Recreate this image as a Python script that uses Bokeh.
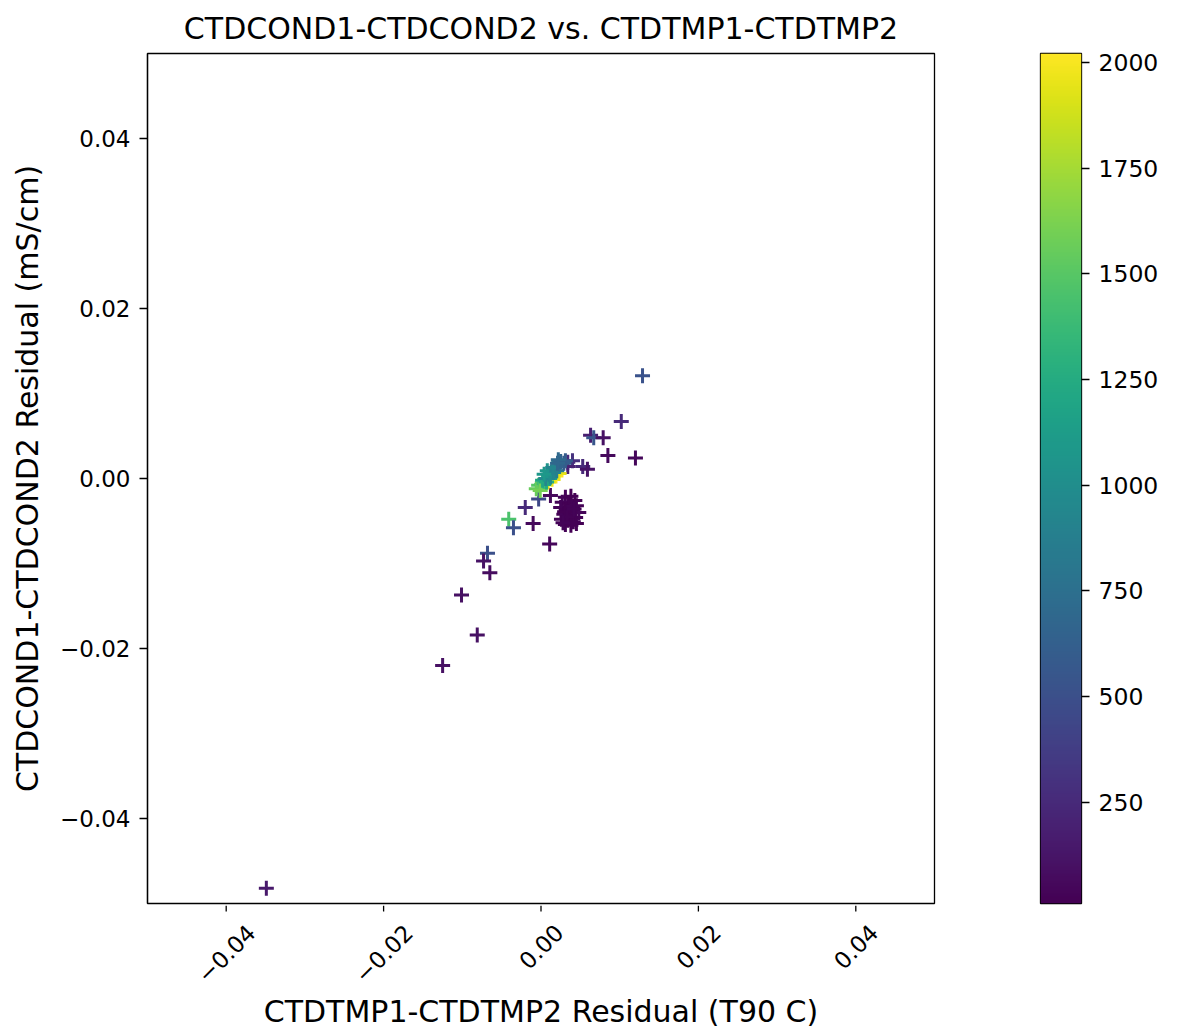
import numpy as np
from bokeh.plotting import figure
from bokeh.layouts import row, column
from bokeh.models import (ColumnDataSource, LinearColorMapper, FixedTicker, Label, Range1d)
from bokeh.core.properties import value
from bokeh.palettes import Viridis256
from bokeh.transform import transform
from bokeh.embed import file_html
from bokeh.resources import INLINE

FONT = "DejaVu Sans"

# Residuals: temperature (T90 C), conductivity (mS/cm), and pressure (dbar)
# Shallow / scattered casts
temp_shallow = [-0.0349, -0.0125, -0.0081, -0.0101, -0.0068, -0.0073, -0.0065,
                -0.0041, -0.0035, -0.0020, -0.0010, 0.0011, -0.0003, 0.0012,
                0.0129, 0.0102, 0.0063, 0.0067, 0.0079, 0.0085, 0.0120,
                0.0034, 0.0053, 0.0059, 0.0040, 0.0034]
cond_shallow = [-0.0482, -0.0220, -0.0184, -0.0137, -0.0088, -0.0097, -0.0111,
                -0.0048, -0.0058, -0.0034, -0.0053, -0.0077, -0.0024, -0.0020,
                0.0121, 0.0067, 0.0051, 0.0048, 0.0048, 0.0027, 0.0024,
                0.0019, 0.0014, 0.0011, 0.0021, 0.0014]
pres_shallow = [150, 100, 100, 100, 500, 110, 80,
                1450, 500, 250, 60, 50, 450, 60,
                520, 250, 180, 550, 100, 60, 50,
                260, 250, 110, 300, 200]

# Near-surface cluster
temp_surface = [0.0031, 0.0038, 0.0043, 0.0027, 0.0035, 0.0045, 0.0025, 0.0032,
                0.0040, 0.0048, 0.0029, 0.0036, 0.0044, 0.0026, 0.0034, 0.0041,
                0.0031, 0.0038, 0.0045, 0.0039, 0.0030, 0.0033, 0.0042, 0.0028]
cond_surface = [-0.0022, -0.0021, -0.0026, -0.0028, -0.0029, -0.0032, -0.0034, -0.0037,
                -0.0038, -0.0040, -0.0042, -0.0044, -0.0046, -0.0048, -0.0049, -0.0051,
                -0.0054, -0.0055, -0.0053, -0.0033, -0.0039, -0.0045, -0.0036, -0.0052]
pres_surface = [30, 25, 20, 35, 15, 22, 28, 12, 18, 40, 14, 26, 19, 33, 16, 24,
                21, 13, 17, 29, 11, 23, 31, 27]

# Deep casts (deepest first so mid-depth points sit on top)
temp_deep = [0.0014, 0.0019, 0.0023, 0.0009,
             -0.0003, 0.0001, -0.0006, 0.0004, -0.0001,
             0.0002, 0.0007, 0.0011,
             0.0006, 0.0010, 0.0013, 0.0017, 0.0021, 0.0012, 0.0016, 0.0008,
             0.0004, 0.0020, 0.0024, 0.0015,
             0.0025, 0.0029, 0.0031, 0.0022, 0.0021]
cond_deep = [-0.0001, 0.0003, 0.0006, -0.0004,
             -0.0008, -0.0007, -0.0012, -0.0006, -0.0014,
             -0.0002, -0.0004, 0.0000,
             0.0000, 0.0005, 0.0008, 0.0012, 0.0014, 0.0002, 0.0007, 0.0009,
             0.0005, 0.0009, 0.0017, 0.0013,
             0.0020, 0.0018, 0.0021, 0.0022, 0.0018]
pres_deep = [1980, 2010, 1950, 1900,
             1500, 1450, 1550, 1400, 1600,
             1200, 1250, 1150,
             950, 980, 900, 870, 820, 1000, 940, 1050,
             1080, 880, 760, 920,
             650, 620, 600, 700, 680]

temp = temp_shallow + temp_surface + temp_deep
cond = cond_shallow + cond_surface + cond_deep
pres = pres_shallow + pres_surface + pres_deep

ticks = [-0.04, -0.02, 0.0, 0.02, 0.04]
tick_labels = ["\u22120.04", "\u22120.02", "0.00", "0.02", "0.04"]
cbar_ticks = [250, 500, 750, 1000, 1250, 1500, 1750, 2000]
p_low, p_high = 11, 2021
x_lo, x_hi = -0.05, 0.05

TICK_PX = "23px"
LABEL_PX = "30px"
FRAME_W, FRAME_H = 787, 850
TOP, BOTTOM_GAP, STRIP_H = 53, 2, 123

mapper = LinearColorMapper(palette=Viridis256, low=p_low, high=p_high)
src = ColumnDataSource(dict(temp=temp, cond=cond, pres=pres))

# ---- main scatter panel ----
p = figure(frame_width=FRAME_W, frame_height=FRAME_H,
           min_border_left=147, min_border_right=66,
           min_border_top=TOP, min_border_bottom=BOTTOM_GAP,
           x_range=(x_lo, x_hi), y_range=(-0.05, 0.05),
           output_backend="svg", toolbar_location=None,
           title="CTDCOND1-CTDCOND2 vs. CTDTMP1-CTDTMP2")
p.grid.visible = False
p.outline_line_color = "black"
p.outline_line_width = 1.3
p.background_fill_color = "white"
p.border_fill_color = "white"
p.xaxis.visible = False

p.title.text_font = FONT
p.title.text_font_size = LABEL_PX
p.title.text_font_style = "normal"
p.title.text_color = "black"
p.title.align = "center"
p.title.standoff = 15

yax = p.yaxis[0]
yax.ticker = FixedTicker(ticks=ticks)
yax.major_label_overrides = dict(zip(ticks, tick_labels))
yax.minor_tick_line_color = None
yax.major_tick_in = 0
yax.major_tick_out = 8
yax.major_tick_line_width = 1.3
yax.axis_line_width = 1.3
yax.major_label_text_font = FONT
yax.major_label_text_font_size = TICK_PX
yax.major_label_text_color = "black"
yax.major_label_standoff = 9
yax.axis_label = "CTDCOND1-CTDCOND2 Residual (mS/cm)"
yax.axis_label_text_font = FONT
yax.axis_label_text_font_size = LABEL_PX
yax.axis_label_text_font_style = "normal"
yax.axis_label_text_color = "black"
yax.axis_label_standoff = 12

p.scatter("temp", "cond", source=src, marker="cross", size=15,
          line_width=3, line_color=transform("pres", mapper))

# ---- colour bar panel ----
cb = figure(frame_width=41, frame_height=FRAME_H,
            min_border_left=40, min_border_right=112,
            min_border_top=TOP, min_border_bottom=BOTTOM_GAP,
            x_range=(0, 1), y_range=(p_low, p_high),
            y_axis_location="right",
            output_backend="svg", toolbar_location=None)
cb.xaxis.visible = False
cb.grid.visible = False
cb.outline_line_color = "black"
cb.outline_line_width = 1.3
cb.border_fill_color = "white"
grad = np.linspace(p_low, p_high, 256).reshape(256, 1)
cb.image(image=[grad], x=0, y=p_low, dw=1, dh=p_high - p_low, color_mapper=mapper)
cax = cb.yaxis[0]
cax.ticker = FixedTicker(ticks=cbar_ticks)
cax.minor_tick_line_color = None
cax.major_tick_in = 0
cax.major_tick_out = 8
cax.major_tick_line_width = 1.3
cax.axis_line_color = None
cax.major_label_text_font = FONT
cax.major_label_text_font_size = "23.5px"
cax.major_label_text_color = "black"
cax.major_label_standoff = 9
cb.add_layout(Label(x=140, y=FRAME_H / 2, x_units="screen", y_units="screen",
                    text="Pressure (dbar)", angle=np.pi / 2,
                    text_align="center", text_baseline="middle",
                    text_font=FONT, text_font_size="23px", text_color="black"))

# ---- x axis strip: ticks, rotated tick labels and axis title ----
# vertical coordinate = pixels below the strip's top edge (negative downwards)
strip = figure(frame_width=FRAME_W, frame_height=STRIP_H,
               min_border_left=147, min_border_right=66,
               min_border_top=0, min_border_bottom=0,
               x_range=p.x_range, y_range=Range1d(-STRIP_H, 0),
               output_backend="svg", toolbar_location=None)
strip.axis.visible = False
strip.grid.visible = False
strip.outline_line_color = None
strip.background_fill_color = "white"
strip.border_fill_color = "white"

strip.segment(x0=ticks, y0=[0] * len(ticks), x1=ticks, y1=[-6] * len(ticks),
              line_color="black", line_width=1.3)
lab_src = ColumnDataSource(dict(
    x=ticks, text=tick_labels,
    y=[-48 if s.startswith("\u2212") else -41 for s in tick_labels]))
strip.text(x="x", y="y", text="text", source=lab_src, angle=np.pi / 4,
           text_align="center", text_baseline="middle",
           text_font=value(FONT), text_font_size=value(TICK_PX), text_color="black")
strip.text(x=[(x_lo + x_hi) / 2], y=[-106], text=["CTDTMP1-CTDTMP2 Residual (T90 C)"],
           text_align="center", text_baseline="middle",
           text_font=value(FONT), text_font_size=value(LABEL_PX), text_color="black")

layout = column(row(p, cb), strip)
open("out.html", "w").write(file_html(layout, INLINE))
